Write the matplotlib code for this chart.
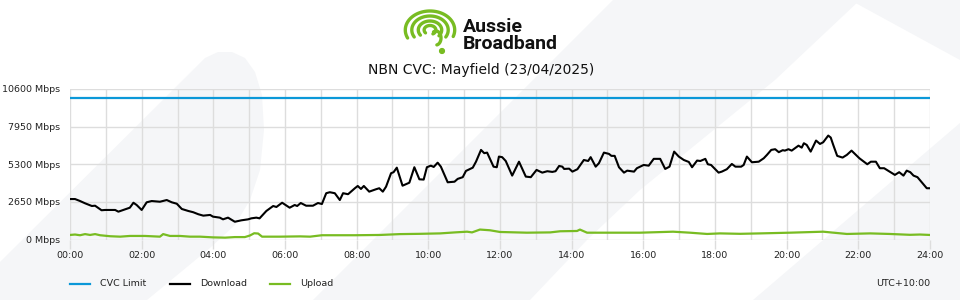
import numpy as np
import matplotlib
matplotlib.use('Agg')
import matplotlib.pyplot as plt
from matplotlib.patches import Polygon, Circle
from matplotlib.lines import Line2D

# ---------------- data ----------------
cvc_limit = 10000
y_ticks = [0, 2650, 5300, 7950, 10600]
x_tick_hours = list(range(0, 25, 2))
x_tick_labels = [f"{h:02d}:00" for h in x_tick_hours]

dl_hours = [0.00,0.14,0.28,0.42,0.61,0.70,0.88,0.98,1.26,1.35,1.49,1.67,1.77,1.86,2.00,2.14,2.28,2.51,2.70,2.84,
            2.98,3.12,3.30,3.44,3.58,3.72,3.91,3.99,
            4.18,4.27,4.41,4.60,4.78,4.97,5.06,5.20,5.29,5.48,5.67,5.76,5.92,6.13,6.27,6.34,6.44,6.59,6.78,6.92,
            7.03,7.15,7.25,7.39,7.53,7.62,7.76,7.95,
            8.03,8.12,8.20,8.35,8.54,8.63,8.73,8.82,8.96,9.03,9.12,9.28,9.47,9.61,9.75,9.87,9.96,10.07,10.15,10.26,
            10.35,10.54,10.73,10.82,10.96,11.05,11.24,11.33,11.47,11.56,11.64,11.82,
            11.91,11.97,12.06,12.16,12.34,12.53,12.72,12.86,13.02,13.18,13.32,13.46,13.55,13.65,13.74,13.79,13.93,14.02,
            14.16,14.34,14.46,14.53,14.67,14.76,14.90,15.04,15.11,15.20,15.32,15.46,15.55,15.74,
            15.82,16.01,16.15,16.29,16.40,16.47,16.61,16.73,16.86,16.99,17.13,17.27,17.36,17.50,17.59,17.73,17.80,17.89,
            18.10,18.19,18.33,18.47,18.57,18.73,18.80,18.89,19.03,19.22,19.36,19.45,19.57,19.68,19.78,19.89,
            19.95,20.05,20.14,20.33,20.42,20.48,20.56,20.67,20.82,20.93,21.02,21.16,21.23,21.30,21.41,21.56,21.68,21.81,
            22.03,22.25,22.35,22.49,22.60,22.72,22.84,23.02,23.14,23.26,23.35,23.45,23.54,23.65,23.77,23.91,24.00]
dl_mbps = [2850,2850,2710,2550,2360,2380,2060,2080,2080,1960,2080,2240,2590,2430,2080,2620,2710,2660,2780,2620,
           2520,2150,2010,1920,1780,1680,1730,1610,
           1540,1420,1540,1250,1350,1420,1490,1540,1490,2010,2360,2290,2590,2240,2430,2360,2570,2380,2380,2570,
           2500,3260,3330,3260,2780,3260,3190,3610,
           3770,3560,3770,3370,3540,3610,3370,3720,4670,4740,5060,3790,4000,5090,4240,4220,5090,5200,5110,5410,
           5130,4030,4070,4270,4390,4830,5060,5480,6310,6080,6120,5130,
           5090,5840,5800,5530,4500,5480,4430,4390,4900,4710,4810,4760,4810,5180,5130,4970,4990,4780,
           4950,5600,5530,5800,5130,5370,6120,6030,5890,5890,5090,4710,4850,4780,
           5020,5250,5200,5680,5680,5680,4970,5130,6190,5840,5600,5460,5090,5560,5530,5680,5300,5250,
           4710,4780,4950,5320,5130,5130,5250,5840,5440,5480,5720,5960,6310,6360,6150,6290,
           6260,6360,6260,6610,6470,6780,6660,6190,6970,6730,6850,7320,7180,6660,5890,5770,5960,6260,
           5720,5300,5480,5480,5020,5020,4830,4550,4740,4500,4850,4740,4500,4390,4030,3610,3610]

ul_hours = [0.00,0.14,0.28,0.42,0.56,0.70,0.84,1.12,1.40,1.67,2.09,2.51,2.60,2.79,3.07,3.35,3.63,3.99,4.33,4.60,
            4.88,5.02,5.14,5.25,5.36,5.86,6.42,6.70,7.03,7.54,7.95,8.65,9.21,9.77,10.33,10.74,11.08,11.22,11.44,11.72,
            12.00,12.75,13.40,13.68,14.15,14.23,14.43,15.07,15.91,16.83,17.30,17.78,18.14,18.70,19.26,20.09,21.02,
            21.68,22.33,22.88,23.44,23.72,24.00]
ul_mbps = [320,350,300,380,320,380,300,230,200,250,250,200,380,250,250,200,200,150,130,170,
           170,280,440,420,200,200,220,200,300,300,300,320,380,400,430,500,550,500,700,650,
           530,480,500,580,600,700,480,480,480,550,480,390,430,400,430,480,550,
           390,430,390,330,350,320]

# ---------------- style ----------------
W, H = 960, 300
BLUE = '#0b98d8'
GREEN = '#78bc22'
GRID = '#dddddd'
WM = '#f5f6f8'

plt.rcParams['font.family'] = ['DejaVu Sans']
fig = plt.figure(figsize=(W / 100, H / 100), dpi=100)
fig.patch.set_facecolor('white')


def fp(pts):
    return [(x / W, 1 - y / H) for x, y in pts]


# background watermark shapes
shapes = [
    [(0, 262), (195, 68), (205, 58), (218, 52), (232, 52), (245, 58), (255, 72), (262, 95), (264, 130),
     (260, 170), (250, 200), (235, 225), (210, 248), (147, 300), (0, 300)],
    [(313, 300), (613, 0), (860, 0), (775, 80), (640, 190), (587, 240), (530, 300)],
    [(753, 300), (960, 300), (960, 123)],
    [(850, 0), (960, 0), (960, 60)],
]
for s in shapes:
    fig.add_artist(Polygon(fp(s), closed=True, transform=fig.transFigure,
                           facecolor=WM, edgecolor='none', zorder=-5))

# main axes
x0, x1, ytop, ybot = 70, 930, 89, 239.5
ax = fig.add_axes([x0 / W, 1 - ybot / H, (x1 - x0) / W, (ybot - ytop) / H])
ax.patch.set_alpha(0)
ax.set_xlim(0, 24)
ax.set_ylim(0, 10600)
for sp in ax.spines.values():
    sp.set_visible(False)

ax.set_xticks(x_tick_hours)
ax.set_xticklabels(x_tick_labels, fontsize=6.8, color='#222222')
ax.set_xticks(range(0, 25), minor=True)
ax.set_yticks(y_ticks)
ax.set_yticklabels([f"{v} Mbps" for v in y_ticks], fontsize=6.8, color='#222222')
ax.tick_params(axis='x', which='major', length=6.5, width=1, color=GRID, pad=2)
ax.tick_params(axis='x', which='minor', length=0)
ax.tick_params(axis='y', length=0, pad=7)
ax.grid(True, which='both', axis='x', color=GRID, lw=1)
ax.grid(True, which='major', axis='y', color=GRID, lw=1)
ax.set_axisbelow(True)

ax.axhline(cvc_limit, color=BLUE, lw=1.6, zorder=3)
ax.plot(ul_hours, ul_mbps, color=GREEN, lw=1.6, zorder=3, solid_joinstyle='round')
ax.plot(dl_hours, dl_mbps, color='black', lw=1.5, zorder=4, solid_joinstyle='round')

# title
fig.text(481 / W, 1 - 70 / H, "NBN CVC: Mayfield (23/04/2025)", ha='center', va='center',
         fontsize=10, color='#111111')

# legend
legend_items = [("CVC Limit", BLUE), ("Download", 'black'), ("Upload", GREEN)]
for i, (lab, col) in enumerate(legend_items):
    lx = 70 + i * 100
    fig.add_artist(Line2D([lx / W, (lx + 20) / W], [1 - 284 / H] * 2, color=col, lw=1.6,
                          transform=fig.transFigure))
    fig.text((lx + 30) / W, 1 - 284 / H, lab, ha='left', va='center', fontsize=6.8, color='#222222')
fig.text(930 / W, 1 - 284 / H, "UTC+10:00", ha='right', va='center', fontsize=6.8, color='#222222')

# logo icon
axl = fig.add_axes([396 / W, 1 - 56 / H, 64 / W, 52 / H])
axl.set_xlim(396, 460)
axl.set_ylim(56, 4)
axl.axis('off')
cx, cy = 430, 30
for r, t0, t1 in [(19, 205, -20), (14, 210, -30), (9, 215, -40), (4.5, 220, -60)]:
    t = np.radians(np.linspace(t0, t1, 60))
    axl.plot(cx + 1.3 * r * np.cos(t), cy - r * np.sin(t), color=GREEN, lw=2.4, solid_capstyle='round')
t = np.radians(np.linspace(120, -80, 40))
axl.plot(cx + 6 + 5 * np.cos(t), cy + 8 - 7 * np.sin(t), color=GREEN, lw=2.4, solid_capstyle='round')
axl.add_patch(Circle((442, 51), 2.4, color=GREEN))

# logo wordmark (single text block)
fig.text(463 / W, 1 - 49 / H, "Aussie\nBroadband", ha='left', va='baseline', fontsize=14,
         linespacing=0.95, fontfamily='Roboto', fontweight='bold', color='#111111')

fig.savefig('out.png', dpi=100, facecolor='white')
